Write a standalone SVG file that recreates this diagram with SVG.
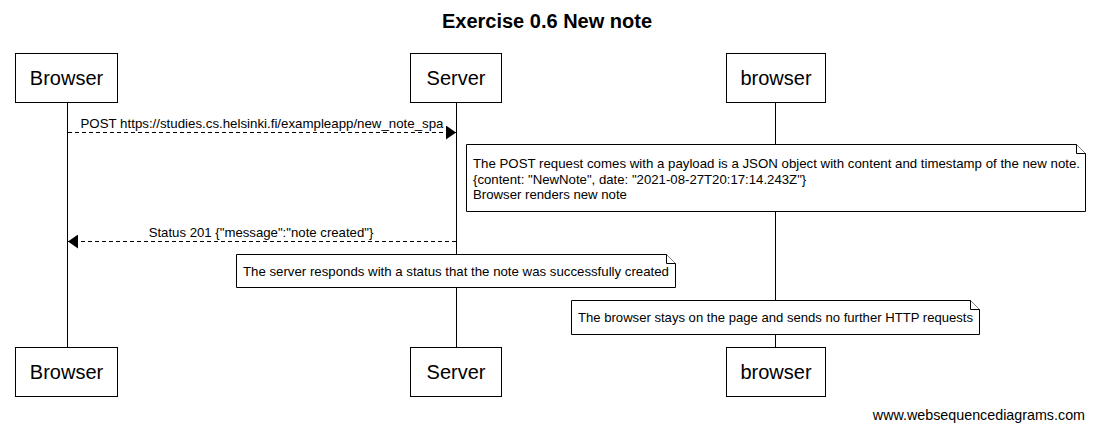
<svg xmlns="http://www.w3.org/2000/svg" width="1094" height="431" viewBox="0 0 1094 431">
<style>
text{font-family:"Liberation Sans",Arial,sans-serif;fill:#000}
.box{fill:#fff;stroke:#000;stroke-width:1}
.pl{font-size:20px;text-anchor:middle}
.life{stroke:#000;stroke-width:1}
.msg{stroke:#000;stroke-width:1;stroke-dasharray:4,3;fill:none}
.ml{font-size:13.2px;text-anchor:middle}
.nt{font-size:13.2px}
.note{fill:#fff;stroke:#000;stroke-width:1}
</style>
<defs>
<marker id="ah" markerWidth="10" markerHeight="14" refX="10" refY="7" orient="auto" markerUnits="userSpaceOnUse">
<path d="M0,0 L10,7 L0,14 Z" fill="#000"/>
</marker>
</defs>
<rect width="1094" height="431" fill="#fff"/>
<text x="547" y="28" font-size="20" font-weight="bold" text-anchor="middle">Exercise 0.6 New note</text>
<g id="lifelines">
<line class="life" x1="67.5" y1="102" x2="67.5" y2="347"/>
<line class="life" x1="456.5" y1="102" x2="456.5" y2="347"/>
<line class="life" x1="775.5" y1="102" x2="775.5" y2="347"/>
</g>
<g id="connectors">
<line class="msg" x1="68" y1="132.5" x2="456" y2="132.5" marker-end="url(#ah)"/>
<text class="ml" x="262" y="128" textLength="363" lengthAdjust="spacingAndGlyphs">POST https://studies.cs.helsinki.fi/exampleapp/new_note_spa</text>
<line class="msg" x1="456" y1="241.5" x2="68" y2="241.5" marker-end="url(#ah)"/>
<text class="ml" x="261" y="237">Status 201 {"message":"note created"}</text>
</g>
<g id="p-browser-top"><rect class="box" x="15.5" y="53.5" width="102" height="49"/><text class="pl" x="66.5" y="85">Browser</text></g>
<g id="p-server-top"><rect class="box" x="410.5" y="53.5" width="91" height="49"/><text class="pl" x="456" y="85">Server</text></g>
<g id="p-browser2-top"><rect class="box" x="726.5" y="53.5" width="99" height="49"/><text class="pl" x="776" y="85">browser</text></g>
<g id="p-browser-bot"><rect class="box" x="15.5" y="347.5" width="102" height="49"/><text class="pl" x="66.5" y="379">Browser</text></g>
<g id="p-server-bot"><rect class="box" x="410.5" y="347.5" width="91" height="49"/><text class="pl" x="456" y="379">Server</text></g>
<g id="p-browser2-bot"><rect class="box" x="726.5" y="347.5" width="99" height="49"/><text class="pl" x="776" y="379">browser</text></g>
<g id="note1">
<path class="note" d="M466.5,144.5 H1076.5 L1085.5,153.5 V211.5 H466.5 Z"/>
<path class="note" d="M1076.5,144.5 V153.5 H1085.5" fill="none"/>
<text class="nt" x="473" y="168" textLength="607" lengthAdjust="spacingAndGlyphs">The POST request comes with a payload is a JSON object with content and timestamp of the new note.</text>
<text class="nt" x="473" y="183.5">{content: "NewNote", date: "2021-08-27T20:17:14.243Z"}</text>
<text class="nt" x="473" y="199">Browser renders new note</text>
</g>
<g id="note2">
<path class="note" d="M236.5,254.5 H666.5 L675.5,263.5 V287.5 H236.5 Z"/>
<path class="note" d="M666.5,254.5 V263.5 H675.5" fill="none"/>
<text class="nt" x="243" y="275.5" textLength="426" lengthAdjust="spacingAndGlyphs">The server responds with a status that the note was successfully created</text>
</g>
<g id="note3">
<path class="note" d="M571.5,300.5 H970.5 L979.5,309.5 V334.5 H571.5 Z"/>
<path class="note" d="M970.5,300.5 V309.5 H979.5" fill="none"/>
<text class="nt" x="578" y="322" textLength="395" lengthAdjust="spacingAndGlyphs">The browser stays on the page and sends no further HTTP requests</text>
</g>
<text x="1085" y="420" font-size="14.3" text-anchor="end">www.websequencediagrams.com</text>
</svg>
